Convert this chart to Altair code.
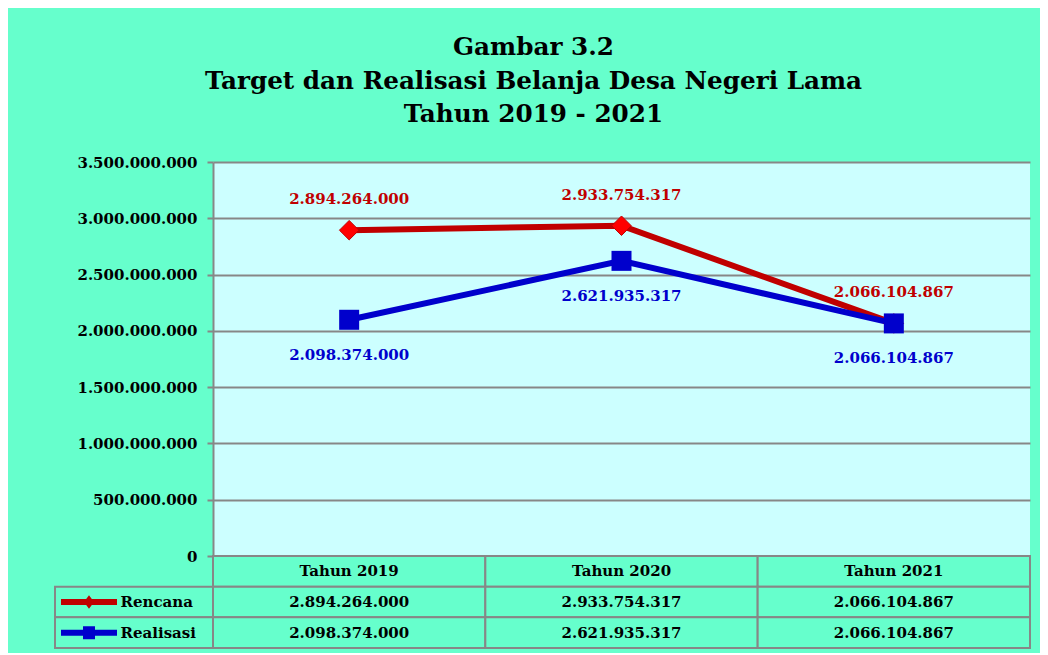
import altair as alt
import pandas as pd

years = ["Tahun 2019", "Tahun 2020", "Tahun 2021"]
series = ["Rencana", "Realisasi"]
rencana = [2894264000, 2933754317, 2066104867]
realisasi = [2098374000, 2621935317, 2066104867]
y_ticks = [0, 500000000, 1000000000, 1500000000, 2000000000,
           2500000000, 3000000000, 3500000000]
title_lines = ["Gambar 3.2",
               "Target dan Realisasi Belanja Desa Negeri Lama",
               "Tahun 2019 - 2021"]


def fmt(v):
    return f"{v:,}".replace(",", ".")


rows = []
for name, vals in zip(series, [rencana, realisasi]):
    for yr, v in zip(years, vals):
        rows.append({"year": yr, "series": name, "value": v, "label": fmt(v)})
df = pd.DataFrame(rows)

trows = [{"year": yr, "row": "head", "text": yr} for yr in years]
for r in rows:
    trows.append({"year": r["year"], "row": r["series"], "text": r["label"]})
tdf = pd.DataFrame(trows)
ldf = pd.DataFrame({"row": series})

FONT = "DejaVu Serif"
GRAY = "#878787"
MINT = "#66FFCC"
PLOT_BG = "#CCFFFF"
RED_LINE = "#C00000"
RED_MARK = "#FF0000"
BLUE = "#0000CC"

W = 817
H = 394

xenc = alt.X("year:N", sort=years, axis=None,
             scale=alt.Scale(type="point", padding=0.5, domain=years))
yenc = alt.Y("value:Q",
             scale=alt.Scale(domain=[0, 3500000000], nice=False, zero=True),
             axis=alt.Axis(values=y_ticks, format=",.0f", title=None,
                           grid=True, gridColor=GRAY, gridWidth=2,
                           domainColor=GRAY, domainWidth=2,
                           tickColor=GRAY, tickWidth=2, tickSize=6,
                           labelPadding=10, labelFont=FONT, labelFontSize=15,
                           labelFontWeight="bold", labelColor="black",
                           minExtent=159, maxExtent=300))

base = alt.Chart(df).encode(x=xenc, y=yenc)
ren = base.transform_filter(alt.datum.series == "Rencana")
rea = base.transform_filter(alt.datum.series == "Realisasi")

top = alt.layer(
    ren.mark_line(color=RED_LINE, strokeWidth=6),
    rea.mark_line(color=BLUE, strokeWidth=6),
    ren.mark_point(shape="diamond", size=380, filled=True, fill=RED_MARK,
                   stroke=RED_LINE, strokeWidth=1, opacity=1),
    rea.mark_point(shape="square", size=400, filled=True, fill=BLUE,
                   opacity=1),
    ren.mark_text(dy=-31, font=FONT, fontSize=15, fontWeight="bold",
                  color=RED_LINE).encode(text="label:N"),
    rea.mark_text(dy=35, font=FONT, fontSize=15, fontWeight="bold",
                  color=BLUE).encode(text="label:N"),
).properties(width=W, height=H)

# table below the plot
row_dom = ["head"] + series
tx = alt.X("year:N", sort=years, axis=None,
           scale=alt.Scale(type="band", domain=years, paddingInner=0, paddingOuter=0))
ty = alt.Y("row:N", sort=row_dom,
           scale=alt.Scale(type="band", domain=row_dom, paddingInner=0, paddingOuter=0),
           axis=alt.Axis(values=series, title=None, ticks=False, domain=False,
                         labelAlign="left", labelPadding=93, labelFont=FONT,
                         labelFontSize=15, labelFontWeight="bold",
                         labelColor="black", minExtent=159, maxExtent=300))

diamond_bar = ("M-1,-0.107 L-0.1,-0.107 L0,-0.24 L0.1,-0.107 L1,-0.107 "
               "L1,0.107 L0.1,0.107 L0,0.24 L-0.1,0.107 L-1,0.107 Z")
square_bar = ("M-1,-0.107 L-0.214,-0.107 L-0.214,-0.232 L0.214,-0.232 "
              "L0.214,-0.107 L1,-0.107 L1,0.107 L0.214,0.107 L0.214,0.232 "
              "L-0.214,0.232 L-0.214,0.107 L-1,0.107 Z")

cells = alt.Chart(tdf).mark_rect(fill=MINT, stroke=GRAY, strokeWidth=2).encode(
    x=tx, y=ty)
texts = alt.Chart(tdf).mark_text(font=FONT, fontSize=15, fontWeight="bold",
                                 color="black").encode(x=tx, y=ty, text="text:N")
legcell = alt.Chart(ldf).mark_rect(fill=MINT, stroke=GRAY, strokeWidth=2).encode(
    x=alt.value(-158), x2=alt.value(0), y=ty)
legsym = alt.Chart(ldf).mark_point(filled=True, size=3136, opacity=1,
                                   strokeWidth=0).encode(
    x=alt.value(-124), y=ty,
    shape=alt.Shape("row:N", scale=alt.Scale(domain=series,
                                             range=[diamond_bar, square_bar]),
                    legend=None),
    color=alt.Color("row:N", scale=alt.Scale(domain=series,
                                             range=[RED_LINE, BLUE]),
                    legend=None))

table = alt.layer(cells, legcell, legsym, texts).properties(width=W, height=92)

chart = alt.vconcat(top, table, spacing=0, bounds="flush").properties(
    title=alt.TitleParams(text=title_lines, font=FONT, fontSize=24.7,
                          fontWeight="bold", color="black", lineHeight=33.5,
                          anchor="middle", dx=-9, offset=28),
    padding={"left": 46, "top": 27, "right": 9, "bottom": 4},
    background=MINT,
).configure(
    view=alt.ViewConfig(stroke="transparent", strokeWidth=0, fill=PLOT_BG),
    locale=alt.Locale(number=alt.NumberLocale(decimal=",", thousands=".",
                                              grouping=[3], currency=["", ""])),
).resolve_scale(color="independent", shape="independent")

chart.save("out.html", embed_options={"renderer": "svg", "actions": False})
